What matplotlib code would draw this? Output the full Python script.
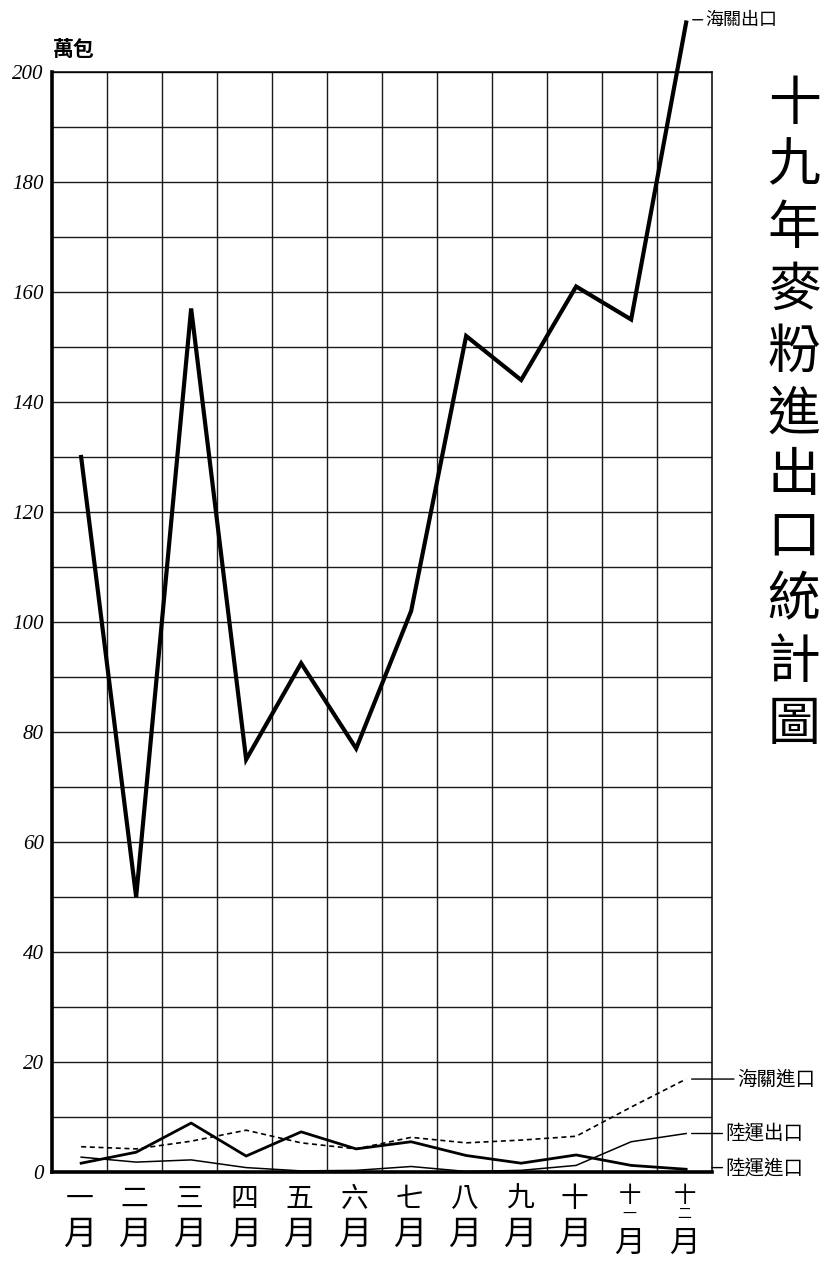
import matplotlib
matplotlib.use('Agg')
import matplotlib.pyplot as plt
from matplotlib.transforms import blended_transform_factory
import numpy as np

# ---------------- data ----------------
months = ['一月', '二月', '三月', '四月', '五月', '六月',
          '七月', '八月', '九月', '十月', '十一月', '十二月']
y_tick_values = [0, 20, 40, 60, 80, 100, 120, 140, 160, 180, 200]
y_tick_labels = ['0', '20', '40', '60', '80', '100', '120', '140', '160', '180', '200']

sea_export = [130, 50, 157, 75, 92.5, 77, 102, 152, 144, 161, 155, 209]      # 海關出口
sea_import = [4.6, 4.2, 5.6, 7.6, 5.3, 4.2, 6.3, 5.3, 5.8, 6.5, 11.8, 16.9]  # 海關進口
land_export = [2.7, 1.8, 2.2, 0.8, 0.2, 0.3, 1.0, 0.1, 0.3, 1.2, 5.5, 7.0]   # 陸運出口
land_import = [1.6, 3.6, 8.9, 2.9, 7.3, 4.2, 5.5, 3.0, 1.6, 3.1, 1.2, 0.5]   # 陸運進口

title_text = '十九年麥粉進出口統計圖'
unit_text = '萬包'
label_sea_export = '海關出口'
label_sea_import = '海關進口'
label_land_export = '陸運出口'
label_land_import = '陸運進口'

# ---------------- figure ----------------
CJK = ['Noto Sans CJK TC', 'DejaVu Sans']
plt.rcParams['font.family'] = CJK

W, H = 822, 1267
fig = plt.figure(figsize=(W / 100, H / 100), dpi=100)
fig.patch.set_facecolor('white')
ax = fig.add_axes([52 / W, 1 - 1172 / H, 660 / W, 1100 / H])
ax.set_xlim(0, 12)
ax.set_ylim(0, 200)

# grid
ax.set_xticks(np.arange(1, 12))
ax.set_xticklabels([])
ax.set_yticks(y_tick_values)
ax.set_yticks(np.arange(10, 200, 20), minor=True)
ax.set_yticklabels(y_tick_labels, fontstyle='italic', family='Liberation Serif', fontsize=15)
ax.tick_params(axis='both', which='both', length=0)
ax.tick_params(axis='y', pad=6)
ax.grid(True, which='both', color='#1a1a1a', lw=1.0)
ax.set_axisbelow(True)

for s in ['left', 'bottom']:
    ax.spines[s].set_linewidth(2.6)
for s in ['top', 'right']:
    ax.spines[s].set_linewidth(1.1)
for s in ax.spines.values():
    s.set_color('black')

x = np.arange(len(months)) + 0.53

ax.plot(x, sea_export, color='black', lw=3.0, solid_joinstyle='miter', clip_on=False, zorder=5)
ax.plot(x, sea_import, color='black', lw=1.2, dashes=(3, 2.2), zorder=4)
ax.plot(x, land_export, color='black', lw=1.1, zorder=4)
ax.plot(x, land_import, color='black', lw=2.0, zorder=4)

# unit label
fig.text(74 / W, 1 - 50 / H, unit_text, fontsize=15, fontweight='bold',
         ha='center', va='center')

# month labels
trans = blended_transform_factory(ax.transData, fig.transFigure)
for i, m in enumerate(months):
    cx = i + 0.5
    top = m[:-1]
    if len(top) == 1:
        ax.text(cx, 1 - 1199 / H, top, transform=trans, fontsize=20,
                ha='center', va='center', clip_on=False)
        ax.text(cx, 1 - 1234 / H, m[-1], transform=trans, fontsize=24,
                ha='center', va='center', clip_on=False)
    else:
        ax.text(cx, 1 - 1196 / H, top[0], transform=trans, fontsize=16,
                ha='center', va='center', clip_on=False)
        ax.text(cx, 1 - 1214 / H, top[1], transform=trans, fontsize=10,
                ha='center', va='center', clip_on=False)
        ax.text(cx, 1 - 1243 / H, m[-1], transform=trans, fontsize=22,
                ha='center', va='center', clip_on=False)

# series labels with leader lines
lead = dict(arrowstyle='-', lw=1.0, color='black', shrinkA=0, shrinkB=0)
ax.annotate(label_sea_export, xy=(x[-1] + 0.12, sea_export[-1] + 0.5),
            xytext=(11.88, sea_export[-1] + 0.5), fontsize=13, va='center', ha='left',
            arrowprops=lead, annotation_clip=False)
ax.annotate(label_sea_import, xy=(x[-1] + 0.1, sea_import[-1]),
            xytext=(12.45, sea_import[-1]), fontsize=14, va='center', ha='left',
            arrowprops=lead, annotation_clip=False)
ax.annotate(label_land_export, xy=(x[-1] + 0.1, land_export[-1]),
            xytext=(12.24, land_export[-1]), fontsize=14, va='center', ha='left',
            arrowprops=lead, annotation_clip=False)
ax.annotate(label_land_import, xy=(12.0, land_import[-1] + 0.3),
            xytext=(12.24, land_import[-1] + 0.3), fontsize=14, va='center', ha='left',
            arrowprops=lead, annotation_clip=False)

# vertical title at the right edge
for i, ch in enumerate(title_text):
    fig.text(794 / W, 1 - (104 + 62 * i) / H, ch, fontsize=38,
             ha='center', va='center')

fig.savefig('out.png', dpi=100, facecolor='white')
